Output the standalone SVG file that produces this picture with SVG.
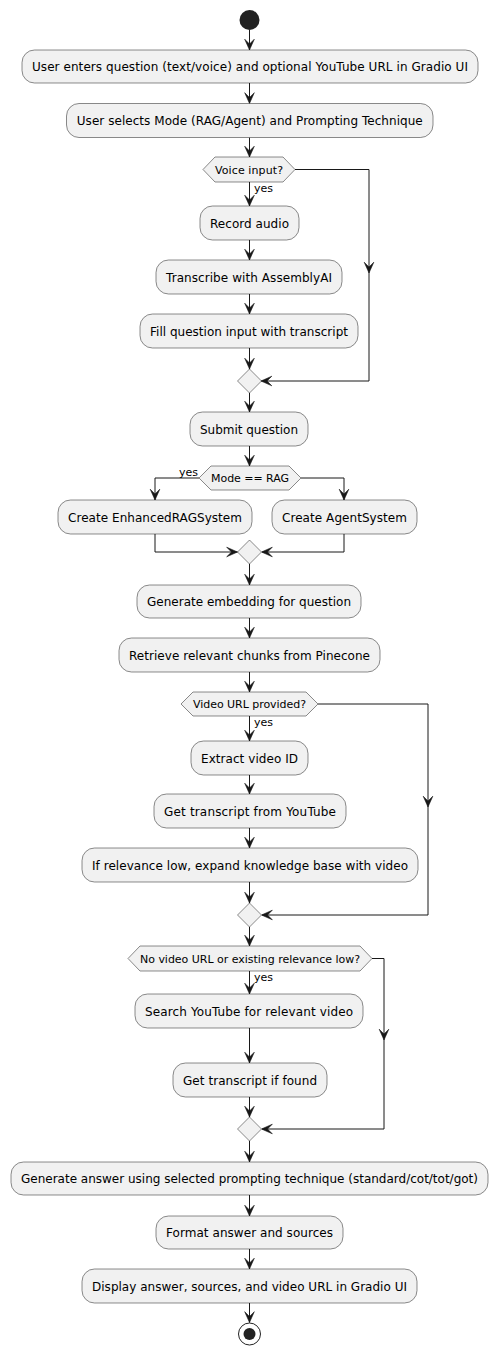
<svg xmlns="http://www.w3.org/2000/svg" width="498" height="1355" viewBox="0 0 498 1355">
<style>
.box{fill:#F1F1F1;stroke:#181818;stroke-width:0.5}
.hex{fill:#F1F1F1;stroke:#181818;stroke-width:0.5}
.t{font-family:"DejaVu Sans",sans-serif;font-size:12px;fill:#000;text-anchor:middle}
.h{font-family:"DejaVu Sans",sans-serif;font-size:11px;fill:#000;text-anchor:middle}
.l{font-family:"DejaVu Sans",sans-serif;font-size:11px;fill:#000}
.c{fill:none;stroke:#181818;stroke-width:1}
.a{fill:none;stroke:#181818;stroke-width:1;marker-end:url(#ah)}
</style>
<defs>
<marker id="ah" markerUnits="userSpaceOnUse" markerWidth="12" markerHeight="12" viewBox="0 0 10 10" refX="10" refY="5" orient="auto">
<path d="M1,1 L10,5 L1,9 L5,5 Z" fill="#181818" stroke="#181818" stroke-width="0.5"/>
</marker>
</defs>
<rect width="498" height="1355" fill="#FFFFFF"/>

<g id="connectors">
<path class="a" d="M249.5,30 V50"/>
<path class="a" d="M249.5,83 V103.5"/>
<path class="a" d="M249.5,137.5 V157"/>
<path class="a" d="M249.5,182 V206"/>
<path class="a" d="M249.5,240 V260"/>
<path class="a" d="M249.5,294 V314"/>
<path class="a" d="M249.5,348 V369"/>
<path class="a" d="M295,169.5 H369 V273"/>
<path class="a" d="M369,273 V381 H261"/>
<path class="a" d="M249.5,393 V412"/>
<path class="a" d="M249.5,446 V466"/>
<path class="a" d="M199,478 H155 V500"/>
<path class="a" d="M301,478 H344 V500"/>
<path class="a" d="M155,534 V552 H237.5"/>
<path class="a" d="M344,534 V552 H261.5"/>
<path class="a" d="M249.5,564 V585"/>
<path class="a" d="M249.5,618 V638"/>
<path class="a" d="M249.5,672 V692"/>
<path class="a" d="M249.5,716 V741"/>
<path class="a" d="M249.5,775 V794"/>
<path class="a" d="M249.5,828 V848"/>
<path class="a" d="M249.5,882 V903"/>
<path class="a" d="M318,704 H428 V807"/>
<path class="a" d="M428,807 V915 H261.5"/>
<path class="a" d="M249.5,927 V946"/>
<path class="a" d="M249.5,971 V994"/>
<path class="a" d="M249.5,1028 V1063"/>
<path class="a" d="M249.5,1097 V1117"/>
<path class="a" d="M372,958.5 H384 V1040"/>
<path class="a" d="M384,1040 V1129 H261.5"/>
<path class="a" d="M249.5,1141 V1162"/>
<path class="a" d="M249.5,1195 V1216"/>
<path class="a" d="M249.5,1249 V1269"/>
<path class="a" d="M249.5,1303 V1322.5"/>
</g>

<g id="start"><circle cx="249.5" cy="20" r="10" fill="#222222"/></g>

<g id="n1"><rect class="box" x="22" y="50" width="456" height="33" rx="12.5"/><text class="t" x="250" y="71" textLength="436">User enters question (text/voice) and optional YouTube URL in Gradio UI</text></g>
<g id="n2"><rect class="box" x="66.5" y="103.5" width="366.5" height="34" rx="12.5"/><text class="t" x="249.75" y="125" textLength="346">User selects Mode (RAG/Agent) and Prompting Technique</text></g>
<g id="d1"><polygon class="hex" points="203,169.5 215,157 283,157 295,169.5 283,182 215,182"/><text class="h" x="249" y="173.5" textLength="68">Voice input?</text><text class="l" x="254" y="192">yes</text></g>
<g id="n3"><rect class="box" x="200" y="206" width="99" height="34" rx="12.5"/><text class="t" x="249.5" y="227.5" textLength="79">Record audio</text></g>
<g id="n4"><rect class="box" x="156" y="260" width="186" height="34" rx="12.5"/><text class="t" x="249" y="281.5" textLength="166">Transcribe with AssemblyAI</text></g>
<g id="n5"><rect class="box" x="140" y="314" width="218" height="34" rx="12.5"/><text class="t" x="249" y="335.5" textLength="198">Fill question input with transcript</text></g>
<g id="m1"><polygon class="hex" points="249.5,369 261.5,381 249.5,393 237.5,381"/></g>
<g id="n6"><rect class="box" x="190" y="412" width="118" height="34" rx="12.5"/><text class="t" x="249" y="433.5" textLength="98">Submit question</text></g>
<g id="d2"><polygon class="hex" points="199,478 211,466 289,466 301,478 289,490 211,490"/><text class="h" x="250" y="482" textLength="78">Mode == RAG</text><text class="l" x="179" y="476">yes</text></g>
<g id="n7"><rect class="box" x="58" y="500" width="194" height="34" rx="12.5"/><text class="t" x="155" y="521.5" textLength="174">Create EnhancedRAGSystem</text></g>
<g id="n8"><rect class="box" x="272" y="500" width="145" height="34" rx="12.5"/><text class="t" x="344.5" y="521.5" textLength="125">Create AgentSystem</text></g>
<g id="m2"><polygon class="hex" points="249.5,540 261.5,552 249.5,564 237.5,552"/></g>
<g id="n9"><rect class="box" x="137" y="585" width="224" height="33" rx="12.5"/><text class="t" x="249" y="606" textLength="204">Generate embedding for question</text></g>
<g id="n10"><rect class="box" x="119" y="638" width="261" height="34" rx="12.5"/><text class="t" x="249.5" y="659.5" textLength="241">Retrieve relevant chunks from Pinecone</text></g>
<g id="d3"><polygon class="hex" points="181,704 193,692 306,692 318,704 306,716 193,716"/><text class="h" x="249.5" y="708" textLength="113">Video URL provided?</text><text class="l" x="254" y="726">yes</text></g>
<g id="n11"><rect class="box" x="191" y="741" width="117" height="34" rx="12.5"/><text class="t" x="249.5" y="762.5" textLength="97">Extract video ID</text></g>
<g id="n12"><rect class="box" x="154" y="794" width="192" height="34" rx="12.5"/><text class="t" x="250" y="815.5" textLength="172">Get transcript from YouTube</text></g>
<g id="n13"><rect class="box" x="82" y="848" width="336" height="34" rx="12.5"/><text class="t" x="250" y="869.5" textLength="316">If relevance low, expand knowledge base with video</text></g>
<g id="m3"><polygon class="hex" points="249.5,903 261.5,915 249.5,927 237.5,915"/></g>
<g id="d4"><polygon class="hex" points="128,958.5 140,946 360,946 372,958.5 360,971 140,971"/><text class="h" x="250" y="962.5" textLength="220">No video URL or existing relevance low?</text><text class="l" x="254" y="981">yes</text></g>
<g id="n14"><rect class="box" x="135" y="994" width="228" height="34" rx="12.5"/><text class="t" x="249" y="1015.5" textLength="208">Search YouTube for relevant video</text></g>
<g id="n15"><rect class="box" x="173" y="1063" width="154" height="34" rx="12.5"/><text class="t" x="250" y="1084.5" textLength="134">Get transcript if found</text></g>
<g id="m4"><polygon class="hex" points="249.5,1117 261.5,1129 249.5,1141 237.5,1129"/></g>
<g id="n16"><rect class="box" x="11" y="1162" width="477" height="33" rx="12.5"/><text class="t" x="249.5" y="1183" textLength="457">Generate answer using selected prompting technique (standard/cot/tot/got)</text></g>
<g id="n17"><rect class="box" x="156" y="1216" width="187" height="33" rx="12.5"/><text class="t" x="249.5" y="1237" textLength="167">Format answer and sources</text></g>
<g id="n18"><rect class="box" x="82" y="1269" width="335" height="34" rx="12.5"/><text class="t" x="249.5" y="1290.5" textLength="315">Display answer, sources, and video URL in Gradio UI</text></g>
<g id="end"><circle cx="249.5" cy="1334" r="11" fill="none" stroke="#222222" stroke-width="1"/><circle cx="249.5" cy="1334" r="6" fill="#222222"/></g>
</svg>
